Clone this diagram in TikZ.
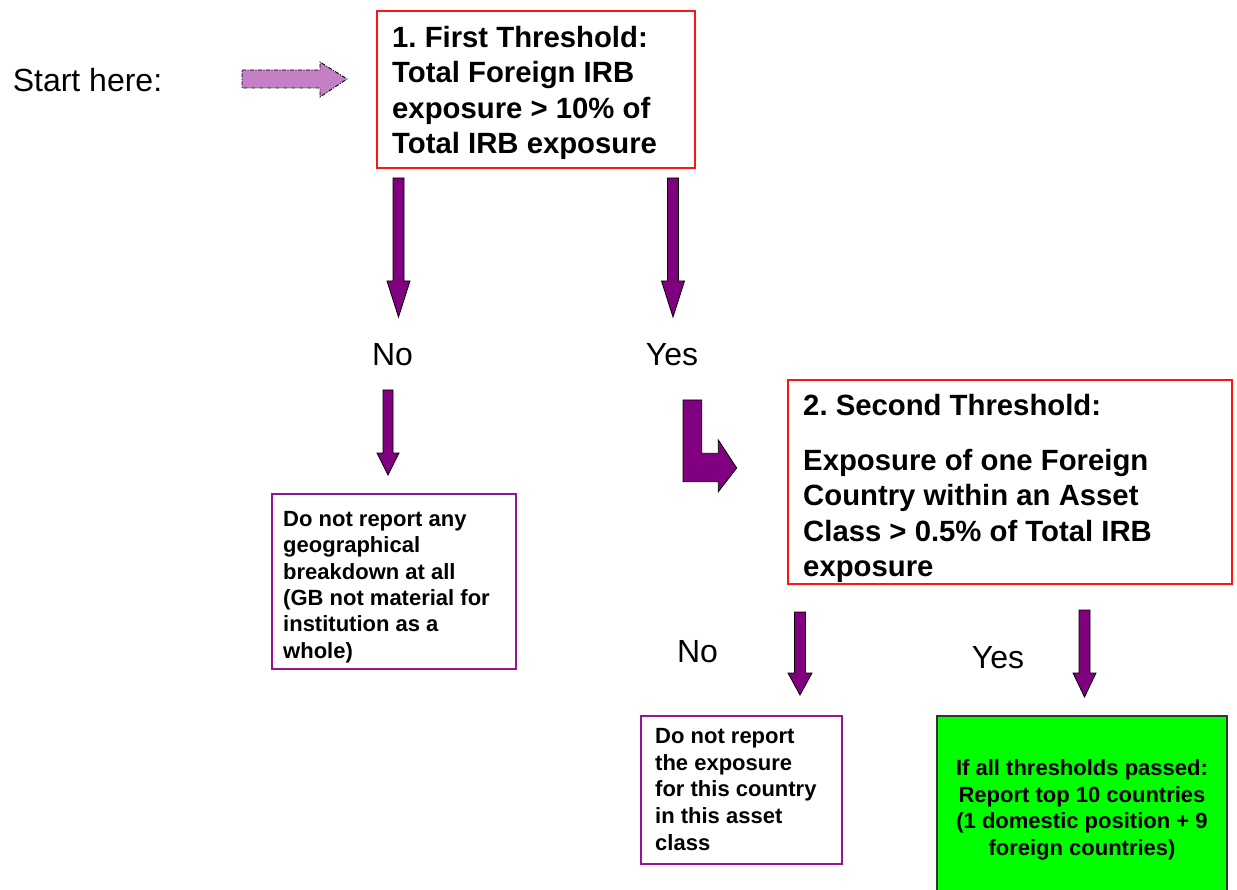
\documentclass[tikz,border=0pt]{standalone}
\usepackage{fontspec}
\setmainfont{Liberation Sans}
\frenchspacing
\definecolor{boxred}{RGB}{255,20,20}
\definecolor{boxpurple}{RGB}{150,20,150}
\definecolor{boxgreen}{RGB}{0,255,0}
\definecolor{arrowpurple}{RGB}{128,0,128}
\definecolor{startpink}{RGB}{196,128,196}
\newcommand{\blockdown}[6]{%
  \draw[blockarrow] (#1-#5,#2) -- (#1+#5,#2) -- (#1+#5,#3) -- (#1+#6,#3) -- (#1,#4) -- (#1-#6,#3) -- (#1-#5,#3) -- cycle;}
\begin{document}
\frenchspacing
\begin{tikzpicture}[x=1pt,y=-1pt,
  redbox/.style={rectangle, draw=boxred, line width=1.2pt, inner sep=0pt},
  purplebox/.style={rectangle, draw=boxpurple, line width=1.2pt, inner sep=0pt},
  greenbox/.style={rectangle, draw=black!80, fill=boxgreen, line width=1.2pt, inner sep=0pt},
  bigtxt/.style={inner sep=0pt, anchor=north west, align=left, font=\bfseries\fontsize{29.3}{35.2}\selectfont},
  smalltxt/.style={inner sep=0pt, anchor=north west, align=left, font=\bfseries\fontsize{22}{26.4}\selectfont},
  labeltxt/.style={inner sep=0pt, anchor=base, font=\fontsize{32}{38}\selectfont},
  blockarrow/.style={fill=arrowpurple, draw=black, line width=0.8pt, line join=miter},
  startarrow/.style={fill=startpink, draw=black, line width=0.9pt, dash pattern=on 4pt off 1.5pt on 1pt off 1.5pt},
]
\useasboundingbox (0,0) rectangle (1237,890);
\clip (0,0) rectangle (1237,890);

% boxes
\node[redbox, minimum width=318pt, minimum height=157pt] (t1) at (536,89.5) {};
\node[bigtxt] (t1text) at (392,26.2) {1. First Threshold:\\Total Foreign IRB\\exposure > 10\% of\\Total IRB exposure};

\node[redbox, minimum width=444pt, minimum height=204pt] (t2) at (1010,482) {};
\node[bigtxt] (t2text) at (803,394.2) {2. Second Threshold:\\[19.8pt]Exposure of one Foreign\\Country within an Asset\\Class > 0.5\% of Total IRB\\exposure};

\node[purplebox, minimum width=244pt, minimum height=175pt] (nogeo) at (394,581.5) {};
\node[smalltxt] (nogeotext) at (283,511) {Do not report any\\geographical\\breakdown at all\\(GB not material for\\institution as a\\whole)};

\node[purplebox, minimum width=201pt, minimum height=148pt] (nocty) at (741.5,790) {};
\node[smalltxt, font=\bfseries\fontsize{22}{26.6}\selectfont] (noctytext) at (655,728.3) {Do not report\\the exposure\\for this country\\in this asset\\class};

\node[greenbox, minimum width=290pt, minimum height=184pt] (report) at (1082,808) {};
\node[smalltxt, anchor=north, align=center, font=\bfseries\fontsize{22}{26.7}\selectfont] (reporttext) at (1082,759.3) {If all thresholds passed:\\Report top 10 countries\\(1 domestic position + 9\\foreign countries)};

% labels
\node[labeltxt] (start) at (87.5,92) {Start here:};
\node[labeltxt] (no1) at (392.5,366) {No};
\node[labeltxt] (yes1) at (672,366) {Yes};
\node[labeltxt] (no2) at (697.5,662) {No};
\node[labeltxt] (yes2) at (998,668) {Yes};

% start arrow
\draw[startarrow] (242,70) -- (320,70) -- (320,62) -- (347,79) -- (320,97) -- (320,88) -- (242,88) -- cycle;

% down block arrows
\blockdown{398.5}{178}{281}{317}{5.5}{11.5}
\blockdown{673}{178}{281}{317}{5.5}{11.5}
\blockdown{388}{390}{453}{475}{5}{11}
\blockdown{800}{612}{673}{695}{5.5}{12}
\blockdown{1084.5}{610}{673}{697}{5.5}{11.5}

% bent arrow
\draw[blockarrow] (683,400) -- (701.7,400) -- (701.7,453.3) -- (718.3,453.3) -- (718.3,440) -- (736.7,468) -- (718.3,491.7) -- (718.3,481.7) -- (683,481.7) -- cycle;
\end{tikzpicture}
\end{document}
